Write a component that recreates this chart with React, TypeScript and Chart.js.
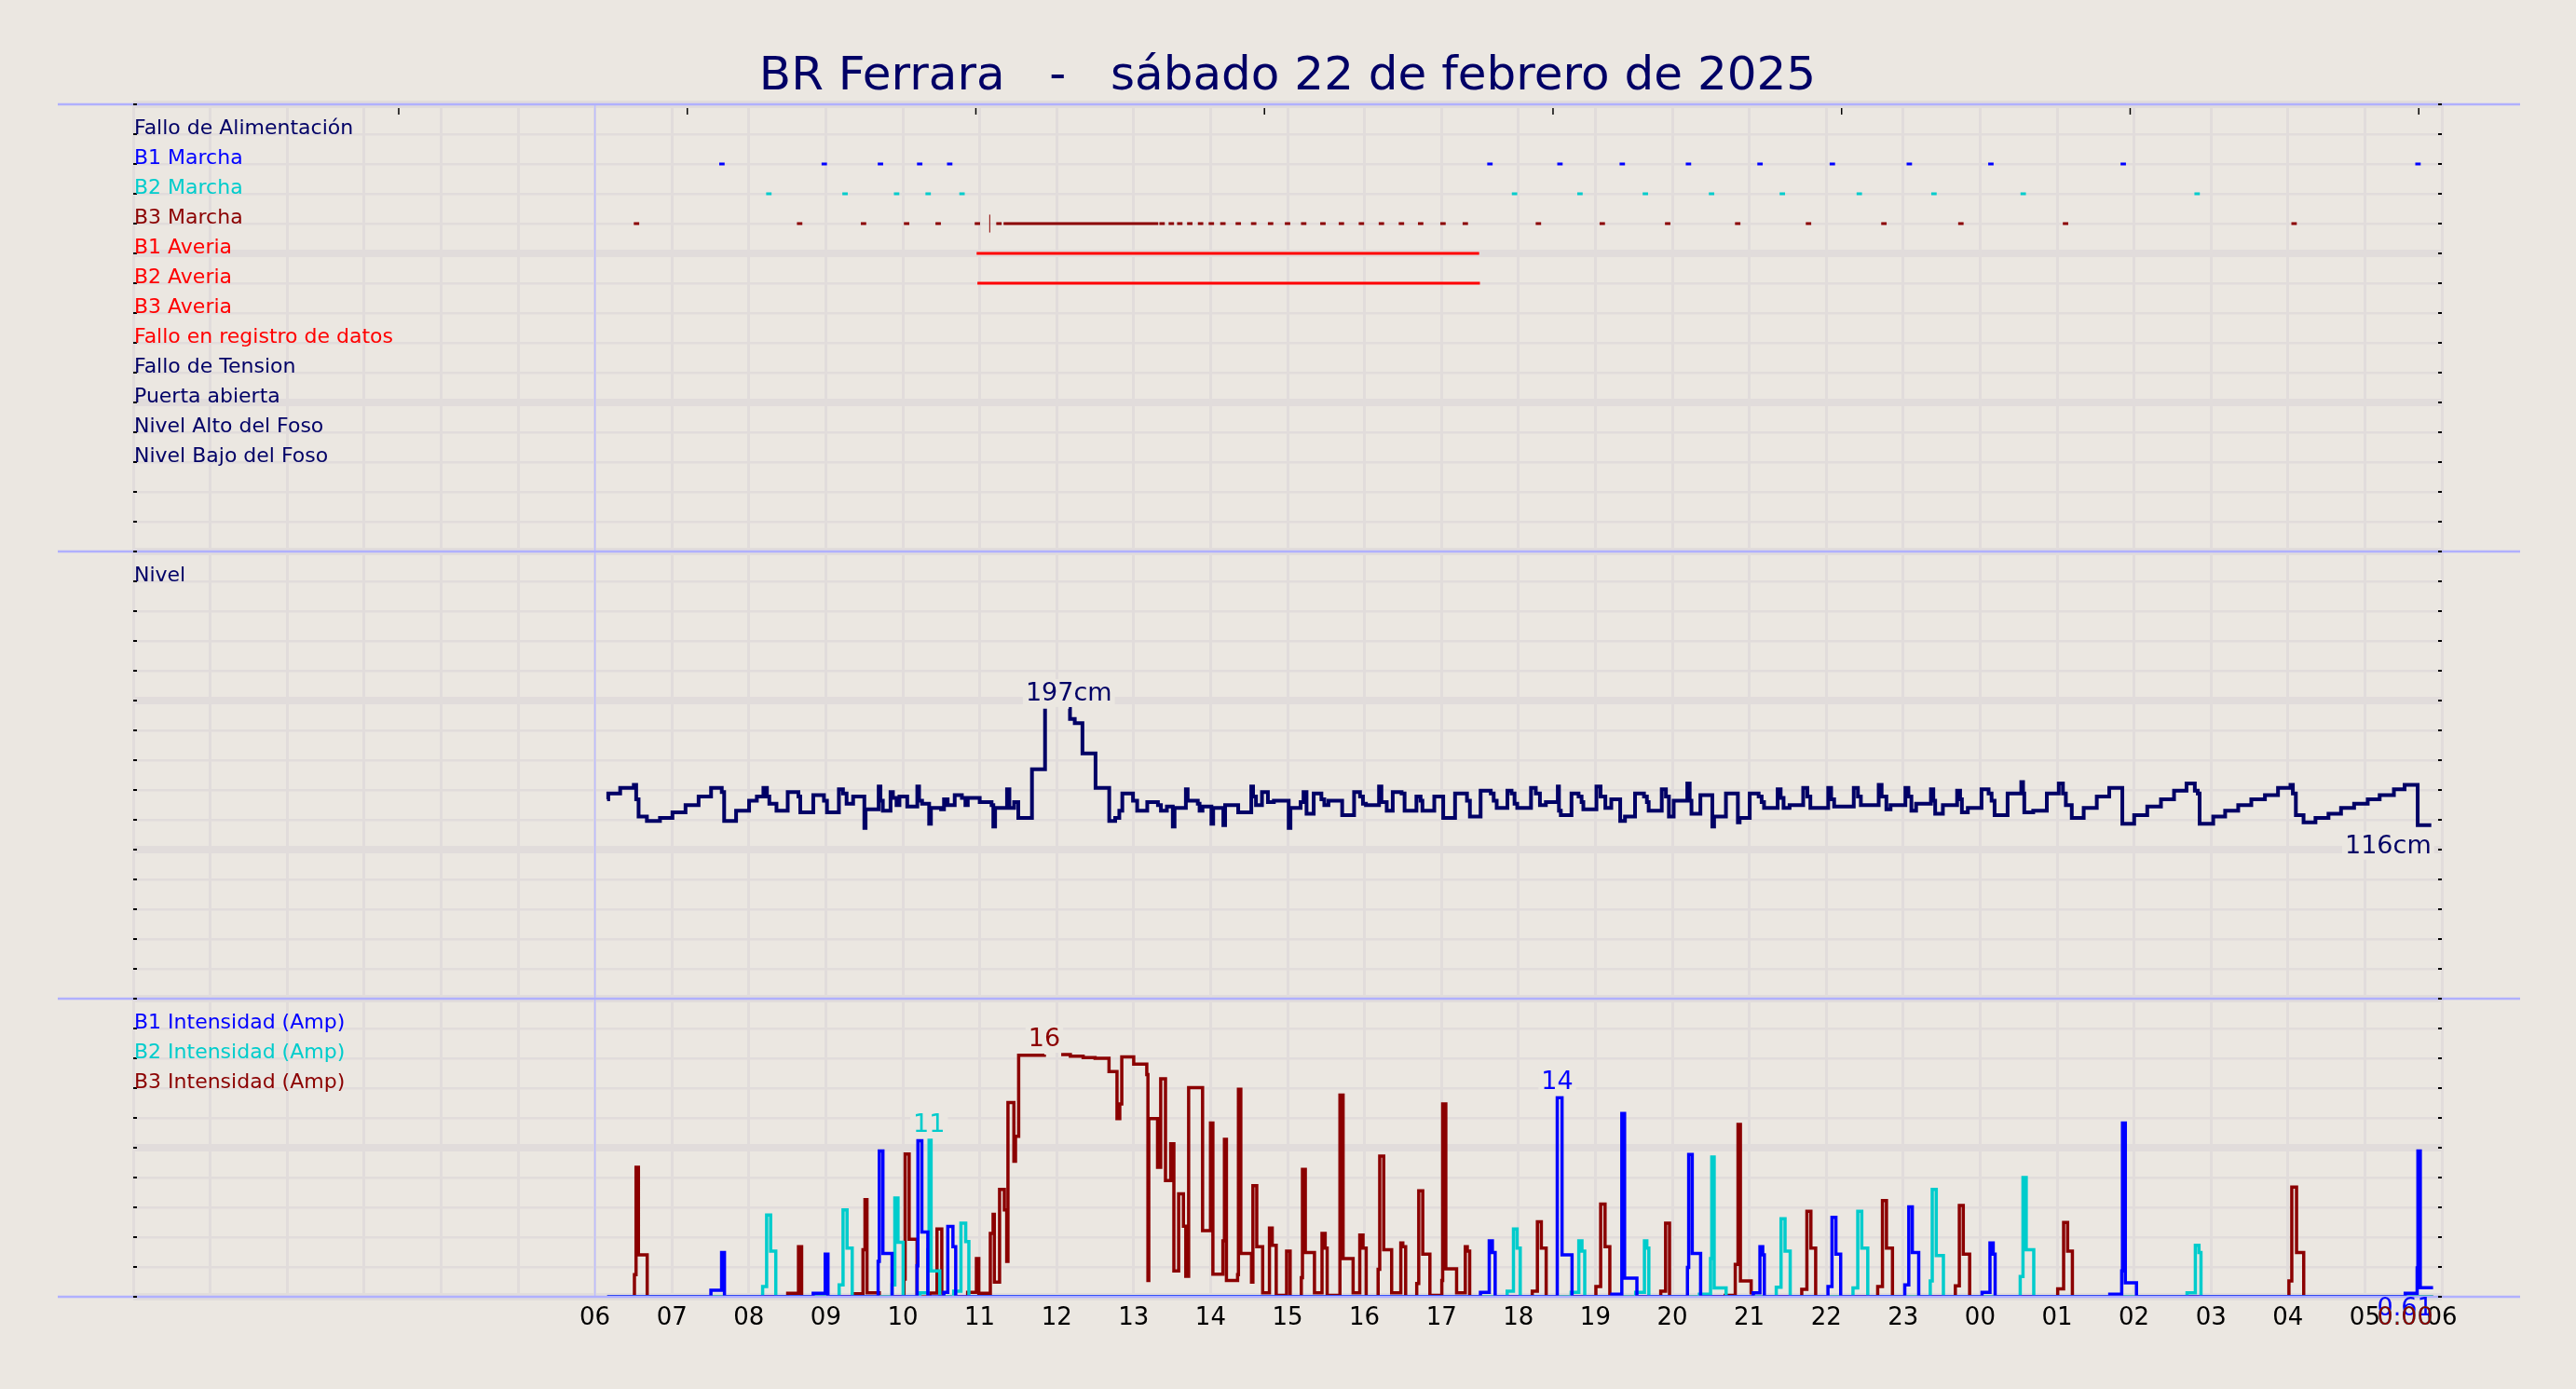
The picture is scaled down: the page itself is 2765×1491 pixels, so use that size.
import React, { useEffect, useRef } from 'react';
import { Chart, registerables } from 'chart.js';

Chart.register(...registerables);

const BG = '#ebe7e1';
const GRID = '#e1dcdb';
const NAVY = '#000066';
const B1C = '#0000ff';
const B2C = '#00cccc';
const B3C = '#8b0000';
const RED = '#ff0000';
const SEP = '#b0b0ff';
const DAYLINE = '#bcbcff';
const FONT = '"DejaVu Sans"';

const TITLE = 'BR Ferrara   -   sábado 22 de febrero de 2025';

// x axis: hours since 00:00 of the day (0..30)
const hourLabels = ['06', '07', '08', '09', '10', '11', '12', '13', '14', '15', '16', '17', '18', '19', '20', '21', '22', '23', '00', '01', '02', '03', '04', '05', '06'];
const firstLabelHour = 6;
const topTickHours = [3.45, 7.2, 10.95, 14.7, 18.45, 22.2, 25.95, 29.7];

// event rows (top panel)
const rowLabels = ['Fallo de Alimentación', 'B1 Marcha', 'B2 Marcha', 'B3 Marcha', 'B1 Averia', 'B2 Averia', 'B3 Averia', 'Fallo en registro de datos', 'Fallo de Tension', 'Puerta abierta', 'Nivel Alto del Foso', 'Nivel Bajo del Foso'];
const rowColors = [NAVY, B1C, B2C, B3C, RED, RED, RED, RED, NAVY, NAVY, NAVY, NAVY];
const rowUnits = [39, 38, 37, 36, 35, 34, 33, 32, 31, 30, 29, 28];
const panelLabels = ['Nivel', 'B1 Intensidad (Amp)', 'B2 Intensidad (Amp)', 'B3 Intensidad (Amp)'];
const panelLabelColors = [NAVY, B1C, B2C, B3C];
const panelLabelUnits = [24, 9, 8, 7];
const separatorUnits = [40, 25, 10, 0];

const b1MarchaTimes = [7.65, 8.98, 9.71, 10.22, 10.61, 17.63, 18.54, 19.35, 20.21, 21.14, 22.08, 23.08, 24.14, 25.86, 29.69];
const b2MarchaTimes = [8.26, 9.25, 9.92, 10.33, 10.77, 17.95, 18.8, 19.65, 20.51, 21.43, 22.43, 23.4, 24.56, 26.82];
const b3MarchaTimes = [6.54, 8.66, 9.49, 10.05, 10.46, 10.97, 11.25, 13.37, 13.49, 13.6, 13.73, 13.87, 14.01, 14.16, 14.36, 14.56, 14.78, 15.0, 15.21, 15.46, 15.7, 15.96, 16.22, 16.48, 16.73, 17.02, 17.31, 18.26, 19.09, 19.94, 20.85, 21.77, 22.75, 23.75, 25.11, 28.08];
const b3MarchaRuns = [[11.31, 13.32]];
const b3MarchaTicks = [11.13];
const b1AveriaRuns = [[10.96, 17.49]];
const b2AveriaRuns = [[10.97, 17.5]];

// Nivel (cm), step values [hour, cm]
const levelSteps: [number, number | null][] = [
  [6.158, 134], [6.173, 138], [6.328, 142], [6.505, 144], [6.536, 134], [6.567, 122], [6.675, 119], [6.845, 121], [7.007, 125], [7.177, 130], [7.347, 136], [7.509, 142], [7.648, 139], [7.679, 119], [7.834, 126], [8.003, 133], [8.104, 136], [8.189, 142], [8.235, 136], [8.266, 131], [8.359, 126], [8.505, 139], [8.644, 136], [8.668, 125], [8.837, 137], [8.976, 133], [9.015, 125], [9.17, 141], [9.223, 138], [9.27, 131], [9.355, 136], [9.501, 114], [9.517, 127], [9.687, 143], [9.71, 133], [9.741, 126], [9.841, 139], [9.872, 135], [9.919, 130], [9.957, 136], [10.058, 129], [10.189, 143], [10.212, 133], [10.251, 131], [10.343, 117], [10.366, 128], [10.498, 127], [10.536, 134], [10.583, 130], [10.675, 137], [10.768, 135], [10.814, 130], [10.845, 135], [11.0, 132], [11.154, 130], [11.177, 115], [11.2, 128], [11.355, 141], [11.386, 128], [11.447, 132], [11.501, 121], [11.679, 155], [11.849, 197], [12.04, null], [12.158, 197], [12.173, 190], [12.235, 187], [12.335, 166], [12.505, 142], [12.683, 119], [12.76, 121], [12.814, 126], [12.853, 138], [12.992, 133], [13.046, 126], [13.177, 132], [13.316, 130], [13.355, 126], [13.432, 129], [13.509, 115], [13.532, 128], [13.679, 141], [13.702, 133], [13.834, 131], [13.857, 126], [13.895, 129], [14.011, 117], [14.034, 128], [14.166, 116], [14.189, 130], [14.359, 125], [14.529, 143], [14.552, 136], [14.59, 130], [14.668, 139], [14.745, 132], [14.822, 133], [15.015, 114], [15.038, 128], [15.17, 132], [15.208, 139], [15.247, 124], [15.34, 138], [15.44, 134], [15.478, 130], [15.532, 133], [15.71, 123], [15.865, 139], [15.942, 136], [15.98, 131], [16.019, 130], [16.189, 143], [16.22, 132], [16.289, 126], [16.367, 139], [16.482, 138], [16.521, 126], [16.675, 136], [16.729, 133], [16.753, 126], [16.907, 136], [17.023, 121], [17.177, 138], [17.332, 133], [17.37, 122], [17.509, 140], [17.641, 138], [17.679, 133], [17.718, 128], [17.857, 140], [17.911, 138], [17.95, 131], [17.985, 128],
  [18.164, 142], [18.226, 138], [18.28, 130], [18.357, 132], [18.512, 143], [18.527, 126], [18.551, 123], [18.69, 138], [18.782, 136], [18.821, 132], [18.844, 127], [19.014, 143], [19.068, 136], [19.13, 128], [19.207, 134], [19.323, 119], [19.385, 122], [19.516, 138], [19.632, 136], [19.67, 132], [19.693, 126], [19.863, 141], [19.917, 136], [19.956, 122], [20.018, 133], [20.195, 145], [20.226, 133], [20.249, 124], [20.365, 137], [20.52, 115], [20.543, 122], [20.697, 138], [20.852, 118], [20.875, 121], [21.006, 138], [21.122, 136], [21.161, 132], [21.192, 128], [21.369, 141], [21.408, 135], [21.446, 128], [21.524, 130], [21.701, 142], [21.755, 136], [21.794, 128], [22.026, 142], [22.064, 134], [22.103, 129], [22.358, 142], [22.412, 136], [22.45, 130], [22.682, 144], [22.72, 136], [22.782, 127], [22.836, 130], [23.029, 142], [23.068, 136], [23.107, 126], [23.168, 131], [23.361, 141], [23.392, 133], [23.416, 124], [23.516, 130], [23.701, 140], [23.74, 134], [23.763, 125], [23.84, 128], [24.018, 141], [24.11, 138], [24.149, 133], [24.188, 123], [24.357, 138], [24.535, 146], [24.558, 138], [24.574, 125], [24.69, 126], [24.867, 138], [25.022, 145], [25.076, 138], [25.114, 130], [25.191, 121], [25.346, 128], [25.516, 136], [25.678, 142], [25.848, 117], [26.002, 123], [26.172, 129], [26.35, 134], [26.52, 140], [26.682, 145], [26.79, 140], [26.828, 138], [26.852, 117], [27.029, 122], [27.184, 126], [27.354, 130], [27.524, 134], [27.701, 137], [27.871, 142], [28.033, 144], [28.064, 138], [28.103, 123], [28.203, 118], [28.358, 121], [28.527, 124], [28.69, 128], [28.86, 131], [29.037, 134], [29.192, 137], [29.377, 141], [29.516, 144], [29.686, 116], [29.863, 116],
];

// Intensidad (A), step values [hour, amp]
const b1Steps: [number, number | null][] = [
  [6.16, 0], [7.507, 0.44], [7.646, 3.0], [7.683, 0], [8.836, 0.23], [8.992, 2.9], [9.028, 0], [9.68, 2.4], [9.695, 9.9], [9.742, 2.95], [9.861, 0], [10.186, 2.1], [10.197, 10.6], [10.248, 4.4], [10.326, 0], [10.533, 0.3], [10.585, 4.77], [10.652, 3.4], [10.688, 0],
  [17.507, 0.3], [17.621, 3.8], [17.662, 3.0], [17.698, 0], [18.505, 13.52], [18.567, 2.85], [18.697, 0], [19.214, 0.17], [19.344, 12.45], [19.38, 1.27], [19.54, 0], [20.197, 2.0], [20.213, 9.66], [20.259, 2.95], [20.368, 0], [21.051, 0.27], [21.139, 3.4], [21.175, 2.85], [21.196, 0], [22.023, 0.7], [22.075, 5.4], [22.126, 2.9], [22.188, 0], [23.021, 0.8], [23.073, 6.1], [23.119, 3.0], [23.202, 0], [24.025, 0.3], [24.128, 3.65], [24.17, 2.9], [24.195, 0], [25.685, 0.17], [25.84, 1.75], [25.85, 11.8], [25.887, 0.95], [26.032, 0], [29.524, 0.23], [29.679, 1.96], [29.689, 9.9], [29.72, 0.61], [29.886, 0.61],
];
const b2Steps: [number, number | null][] = [
  [6.16, 0], [8.179, 0.7], [8.231, 5.55], [8.283, 3.1], [8.35, 0], [9.173, 0.8], [9.224, 5.9], [9.276, 3.3], [9.343, 0], [9.861, 0.8], [9.897, 6.7], [9.938, 3.7], [10.005, 0], [10.223, 0.27], [10.326, 3.2], [10.342, 10.63], [10.368, 1.75], [10.481, 0], [10.662, 0.38], [10.756, 5.0], [10.818, 3.75], [10.859, 0],
  [17.854, 0.38], [17.936, 4.6], [17.983, 3.3], [18.024, 0], [18.686, 0.3], [18.785, 3.8], [18.826, 3.1], [18.862, 0], [19.524, 0.3], [19.638, 3.8], [19.669, 3.3], [19.695, 0], [20.352, 0.17], [20.497, 2.6], [20.513, 9.5], [20.544, 0.6], [20.699, 0], [21.351, 0.65], [21.413, 5.3], [21.465, 3.1], [21.532, 0], [22.348, 0.6], [22.41, 5.8], [22.462, 3.3], [22.54, 0], [23.352, 1.08], [23.378, 7.3], [23.43, 2.8], [23.523, 0], [24.521, 1.37], [24.557, 8.1], [24.599, 3.2], [24.697, 0], [26.689, 0.27], [26.797, 3.5], [26.844, 3.0], [26.87, 0], [29.886, 0],
];
const b3Steps: [number, number | null][] = [
  [6.16, 0], [6.513, 1.5], [6.534, 8.8], [6.565, 2.85], [6.679, 0], [8.505, 0.23], [8.645, 3.4], [8.686, 0], [9.343, 0.2], [9.483, 3.2], [9.509, 6.6], [9.535, 0.27], [9.695, 0], [10.016, 1.2], [10.031, 9.7], [10.083, 3.9], [10.186, 0], [10.352, 0.25], [10.445, 4.6], [10.507, 0.25], [10.53, 0],
  [10.843, 0.3], [10.957, 2.6], [10.988, 0.23], [11.138, 4.3], [11.174, 5.6], [11.19, 1.0], [11.258, 7.3], [11.32, 5.9], [11.351, 2.4], [11.367, 13.2], [11.444, 9.2], [11.465, 10.9], [11.506, 16.4], [11.84, 16.45], [11.878, null],
  [12.059, 16.45], [12.178, 16.35], [12.344, 16.25], [12.499, 16.2], [12.68, 15.3], [12.784, 12.1], [12.82, 13.1], [12.846, 16.3], [13.001, 15.8], [13.171, 15.1], [13.186, 1.1], [13.197, 12.1], [13.311, 8.8], [13.352, 14.8], [13.414, 7.9], [13.482, 10.4], [13.523, 1.75], [13.585, 7.0], [13.647, 4.8], [13.678, 1.4], [13.715, 14.2], [13.896, 4.5], [13.999, 11.8], [14.03, 1.54],
  [14.16, 3.8], [14.18, 10.7], [14.206, 1.1], [14.351, 1.5], [14.362, 14.1], [14.393, 2.95], [14.532, 1.0], [14.55, 7.55], [14.6, 3.4], [14.677, 0.27], [14.765, 4.66], [14.801, 3.5], [14.853, 0.1], [14.988, 3.1], [15.034, 0],
  [15.179, 1.3], [15.194, 8.65], [15.231, 3.0], [15.35, 0.27], [15.448, 4.3], [15.489, 3.3], [15.515, 0.1], [15.681, 13.7], [15.722, 2.6], [15.852, 0.27], [15.939, 4.2], [15.981, 3.3], [16.022, 0],
  [16.177, 1.86], [16.198, 9.56], [16.25, 3.2], [16.353, 0.27], [16.472, 3.65], [16.498, 3.4], [16.535, 0], [16.679, 0.9], [16.705, 7.2], [16.757, 2.9], [16.85, 0.1], [17.005, 1.1], [17.016, 13.1], [17.057, 1.9], [17.197, 0.27], [17.31, 3.4], [17.336, 3.1], [17.367, 0],
  [18.18, 0.38], [18.247, 5.1], [18.298, 3.3], [18.361, 0], [19.007, 0.7], [19.069, 6.3], [19.126, 3.4], [19.188, 0], [19.85, 0.38], [19.913, 5.0], [19.964, 0], [20.688, 0.1], [20.818, 2.2], [20.854, 11.7], [20.885, 1.08], [21.025, 0.27], [21.051, 0], [21.682, 0.5], [21.749, 5.8], [21.801, 3.3], [21.863, 0],
  [22.669, 0.7], [22.731, 6.54], [22.783, 3.3], [22.861, 0], [23.678, 0.74], [23.73, 6.2], [23.781, 2.9], [23.864, 0], [25.008, 0.53], [25.085, 5.04], [25.137, 3.1], [25.199, 0], [28.013, 1.08], [28.05, 7.45], [28.112, 3.0], [28.205, 0], [29.886, 0],
];

// axis ranges
const X_MIN = 0, X_MAX = 30;
const GRID_MIN = 0, GRID_MAX = 40;
const CUR_MIN = 0, CUR_MAX = 81.0;
const LEV_MIN = -212.3, LEV_MAX = 617.8;
const MARK_LEN = 0.07;

const toPts = (steps: [number, number | null][]) => steps.map(([x, y]) => ({ x, y }));

function eventPts(times: number[], runs: number[][], unit: number) {
  const pts: { x: number; y: number | null }[] = [];
  const segs = [...times.map((t) => [t - MARK_LEN / 2, t + MARK_LEN / 2]), ...runs].sort((a, b) => a[0] - b[0]);
  for (const [s, e] of segs) {
    pts.push({ x: s, y: unit }, { x: e, y: unit }, { x: e, y: null });
  }
  return pts;
}

function tickPts(times: number[], unit: number) {
  const pts: { x: number; y: number | null }[] = [];
  for (const t of times) pts.push({ x: t, y: unit - 0.3 }, { x: t, y: unit + 0.3 }, { x: t, y: null });
  return pts;
}

function argMax(steps: [number, number | null][], last: boolean) {
  let best = -1;
  steps.forEach(([, v], i) => {
    if (v == null) return;
    if (best < 0 || (last ? v >= (steps[best][1] as number) : v > (steps[best][1] as number))) best = i;
  });
  return best;
}

function drawValueLabel(ctx: CanvasRenderingContext2D, text: string, px: number, baseY: number, color: string, align: 'center' | 'right', boxed: boolean) {
  ctx.font = `27px ${FONT}`;
  const w = ctx.measureText(text).width;
  const left = align === 'center' ? px - w / 2 : px - w;
  if (boxed) {
    ctx.fillStyle = BG;
    ctx.fillRect(left - 3, baseY - 23, w + 6, 30);
  }
  ctx.fillStyle = color;
  ctx.textAlign = 'left';
  ctx.textBaseline = 'alphabetic';
  ctx.fillText(text, left, baseY);
}

const bgPlugin = {
  id: 'bgfill',
  beforeDraw(chart: any) {
    const { ctx, width, height } = chart;
    ctx.save();
    ctx.fillStyle = BG;
    ctx.fillRect(0, 0, width, height);
    ctx.restore();
  },
  beforeDatasetsDraw(chart: any) {
    const { ctx, chartArea: a, scales } = chart;
    const px = scales.x.getPixelForValue(firstLabelHour);
    ctx.save();
    ctx.strokeStyle = DAYLINE;
    ctx.lineWidth = 1.5;
    ctx.beginPath();
    ctx.moveTo(px, a.top);
    ctx.lineTo(px, a.bottom);
    ctx.stroke();
    ctx.restore();
  },
};

const decoPlugin = {
  id: 'deco',
  afterDatasetsDraw(chart: any) {
    const { ctx, chartArea: a, scales } = chart;
    const xs = scales.x, ys = scales.y, yc = scales.yCur, yl = scales.yLev;
    const line = (x1: number, y1: number, x2: number, y2: number) => {
      ctx.beginPath();
      ctx.moveTo(x1, y1);
      ctx.lineTo(x2, y2);
      ctx.stroke();
    };
    ctx.save();
    // panel separators
    ctx.strokeStyle = SEP;
    ctx.lineWidth = 2.5;
    for (const u of separatorUnits) {
      const py = ys.getPixelForValue(u);
      line(a.left - 81, py, a.right + 84, py);
    }
    // inner ticks on both sides
    ctx.strokeStyle = '#000';
    ctx.lineWidth = 2;
    for (let u = GRID_MIN; u <= GRID_MAX; u++) {
      const py = ys.getPixelForValue(u);
      line(a.left, py, a.left + 4, py);
      line(a.right - 4, py, a.right, py);
    }
    ctx.lineWidth = 1.5;
    for (const h of topTickHours) {
      const px = xs.getPixelForValue(h);
      line(px, a.top + 4, px, a.top + 11);
    }
    // row labels
    ctx.font = `22px ${FONT}`;
    ctx.textAlign = 'left';
    ctx.textBaseline = 'alphabetic';
    rowLabels.forEach((t, i) => {
      ctx.fillStyle = rowColors[i];
      ctx.fillText(t, a.left + 1, ys.getPixelForValue(rowUnits[i]) - 0.5);
    });
    panelLabels.forEach((t, i) => {
      ctx.fillStyle = panelLabelColors[i];
      ctx.fillText(t, a.left + 1, ys.getPixelForValue(panelLabelUnits[i]) - 0.5);
    });
    // max labels
    const maxSpecs: [[number, number | null][], any, string, string, boolean][] = [
      [levelSteps, yl, NAVY, 'cm', true],
      [b1Steps, yc, B1C, '', false],
      [b2Steps, yc, B2C, '', false],
      [b3Steps, yc, B3C, '', false],
    ];
    for (const [steps, sc, color, unit, last] of maxSpecs) {
      const i = argMax(steps, last);
      const [hx, v] = steps[i];
      const px = xs.getPixelForValue(hx);
      const py = sc.getPixelForValue(v as number);
      drawValueLabel(ctx, `${Math.round(v as number)}${unit}`, px, py - 9, color, 'center', true);
    }
    // last-value labels
    const lastLev = levelSteps[levelSteps.length - 1];
    drawValueLabel(ctx, `${Math.round(lastLev[1] as number)}cm`, xs.getPixelForValue(lastLev[0]), yl.getPixelForValue(lastLev[1] as number) + 30, NAVY, 'right', true);
    const lastSpecs: [[number, number | null][], string][] = [[b1Steps, B1C], [b2Steps, B2C], [b3Steps, B3C]];
    for (const [steps, color] of lastSpecs) {
      const [hx, v] = steps[steps.length - 1];
      drawValueLabel(ctx, (v as number).toFixed(2), xs.getPixelForValue(hx), yc.getPixelForValue(v as number) + 30, color, 'right', false);
    }
    ctx.restore();
  },
};

export default function App() {
  const ref = useRef<HTMLCanvasElement>(null);
  useEffect(() => {
    Chart.defaults.font.family = FONT;
    const stepLine = (label: string, steps: [number, number | null][], color: string, axis: string, width: number) => ({
      label,
      data: toPts(steps),
      borderColor: color,
      backgroundColor: color,
      borderWidth: width,
      stepped: true,
      pointRadius: 0,
      pointHitRadius: 0,
      fill: false,
      spanGaps: false,
      yAxisID: axis,
    });
    const evLine = (label: string, pts: any[], color: string, width: number) => ({
      label,
      data: pts,
      borderColor: color,
      backgroundColor: color,
      borderWidth: width,
      pointRadius: 0,
      pointHitRadius: 0,
      fill: false,
      spanGaps: false,
      borderCapStyle: 'butt',
      yAxisID: 'y',
    });
    const chart = new Chart(ref.current!, {
      type: 'line',
      data: {
        datasets: [
          evLine('B1 Marcha', eventPts(b1MarchaTimes, [], rowUnits[1]), B1C, 3),
          evLine('B2 Marcha', eventPts(b2MarchaTimes, [], rowUnits[2]), B2C, 3),
          evLine('B3 Marcha', eventPts(b3MarchaTimes, b3MarchaRuns, rowUnits[3]), B3C, 3),
          evLine('B3 Marcha tick', tickPts(b3MarchaTicks, rowUnits[3]), B3C, 1),
          evLine('B1 Averia', eventPts([], b1AveriaRuns, rowUnits[4]), RED, 3),
          evLine('B2 Averia', eventPts([], b2AveriaRuns, rowUnits[5]), RED, 3),
          stepLine('Nivel', levelSteps, NAVY, 'yLev', 4),
          stepLine('B1 Intensidad (Amp)', b1Steps, B1C, 'yCur', 3.5),
          stepLine('B2 Intensidad (Amp)', b2Steps, B2C, 'yCur', 3.5),
          stepLine('B3 Intensidad (Amp)', b3Steps, B3C, 'yCur', 3.5),
        ] as any,
      },
      options: {
        responsive: false,
        devicePixelRatio: 1,
        animation: false,
        events: [],
        parsing: true,
        layout: { padding: { left: 143, right: 144, top: 0, bottom: 0 } },
        plugins: {
          legend: { display: false },
          tooltip: { enabled: false },
          title: {
            display: true,
            text: TITLE,
            color: NAVY,
            font: { family: FONT, size: 50, weight: 'normal', lineHeight: 1.16 },
            padding: { top: 54, bottom: 0 },
          },
        },
        scales: {
          x: {
            type: 'linear',
            min: X_MIN,
            max: X_MAX,
            ticks: {
              stepSize: 1,
              autoSkip: false,
              maxRotation: 0,
              color: '#000',
              padding: 8,
              font: { family: FONT, size: 26 },
              callback: (v: any) => {
                const i = Math.round(Number(v)) - firstLabelHour;
                return i >= 0 && i < hourLabels.length ? hourLabels[i] : '';
              },
            },
            grid: { color: GRID, lineWidth: 3, drawTicks: false },
            border: { display: false },
            afterFit: (s: any) => { s.height = 99; },
          },
          y: {
            type: 'linear',
            min: GRID_MIN,
            max: GRID_MAX,
            ticks: { stepSize: 1, display: false },
            grid: {
              color: GRID,
              lineWidth: (c: any) => (c.tick && c.tick.value % 5 === 0 ? 8 : 2.5),
              drawTicks: false,
            },
            border: { display: false },
            afterFit: (s: any) => { s.width = 0; },
          },
          yCur: { type: 'linear', display: false, min: CUR_MIN, max: CUR_MAX },
          yLev: { type: 'linear', display: false, min: LEV_MIN, max: LEV_MAX },
        },
      } as any,
      plugins: [bgPlugin, decoPlugin],
    });
    return () => chart.destroy();
  }, []);
  return (
    <div style={{ position: 'fixed', left: 0, top: 0, width: 2765, height: 1491, background: BG }}>
      <canvas ref={ref} width={2765} height={1491} style={{ display: 'block', width: 2765, height: 1491 }} />
    </div>
  );
}
